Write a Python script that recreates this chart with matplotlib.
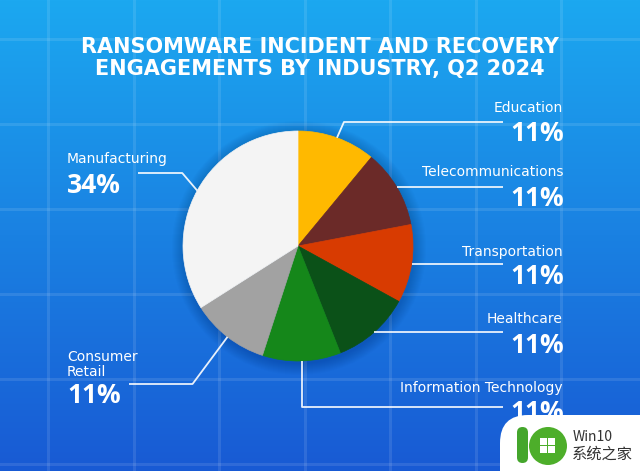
import numpy as np
import matplotlib
matplotlib.use('Agg')
import matplotlib.pyplot as plt
from matplotlib.patches import Circle, FancyBboxPatch, Rectangle

W, H = 640, 471

industries = ['Education', 'Telecommunications', 'Transportation', 'Healthcare',
              'Information Technology', 'Consumer\nRetail', 'Manufacturing']
shares = [11, 11, 11, 11, 11, 11, 34]
slice_colors = ['#ffb900', '#6b2a28', '#d83b01', '#0b5118', '#15871a', '#a2a2a2', '#f4f4f4']
title_lines = ['RANSOMWARE INCIDENT AND RECOVERY', 'ENGAGEMENTS BY INDUSTRY, Q2 2024']

# label layout in pixels from the top: name baseline (last line), pct baseline, line y, elbow dx, line end x
layout = {
    'Education': ('right', 112, 141, 122, 7, 503),
    'Telecommunications': ('right', 176, 206, None, 0, 503),
    'Transportation': ('right', 256, 284, None, 0, 503),
    'Healthcare': ('right', 323, 353, None, 0, 503),
    'Information Technology': ('right', 392, 420, 407, 0, 503),
    'Consumer\nRetail': ('left', 376, 403, 384, -35, 129),
    'Manufacturing': ('left', 163, 193, 173, -15, 138),
}


def Y(y):
    return H - y


fig = plt.figure(figsize=(6.4, 4.71), dpi=100)
ax = fig.add_axes([0, 0, 1, 1])

# background gradient
top = np.array([28, 168, 240]) / 255
bot = np.array([24, 90, 212]) / 255
t = np.linspace(0, 1, 256)[:, None, None]
grad = top * (1 - t) + bot * t
grad = np.repeat(grad, 2, axis=1)
ax.imshow(grad, extent=[0, W, 0, H], aspect='auto', origin='upper', zorder=0)

# faint grid
for gx in np.arange(48, W, 85.5):
    ax.plot([gx, gx], [0, H], color='white', alpha=0.1, lw=2.2, zorder=1)
for gy in np.arange(39, H, 85):
    ax.plot([0, W], [Y(gy), Y(gy)], color='white', alpha=0.1, lw=2.2, zorder=1)

# pie
cx, cy, r = 298, Y(246), 115
for k in range(1, 13):
    ax.add_patch(Circle((cx + 1, cy - 2), r + k, color='#07215e', alpha=0.018, lw=0, zorder=2))
wedges, _ = ax.pie(shares, colors=slice_colors, startangle=90, counterclock=False,
                   center=(cx, cy), radius=r, wedgeprops=dict(linewidth=0.5))
for w in wedges:
    w.set_edgecolor(w.get_facecolor())
    w.set_zorder(3)

# titles
ax.text(320, Y(53), title_lines[0], ha='center', va='baseline', color='white',
        fontsize=15, fontweight='bold', family='DejaVu Sans', zorder=5)
ax.text(320, Y(75), title_lines[1], ha='center', va='baseline', color='white',
        fontsize=15, fontweight='bold', family='DejaVu Sans', zorder=5)

# labels and leader lines
for w, name, val in zip(wedges, industries, shares):
    side, name_y, pct_y, line_y, dx, end_x = layout[name]
    mid = np.deg2rad((w.theta1 + w.theta2) / 2)
    x0, y0 = cx + r * np.cos(mid), cy + r * np.sin(mid)
    if line_y is None:
        xs, ys = [x0, end_x], [y0, y0]
    else:
        xs, ys = [x0, x0 + dx, end_x], [y0, Y(line_y), Y(line_y)]
    ax.plot(xs, ys, color='white', lw=1.3, alpha=0.9, zorder=4, solid_capstyle='butt')
    tx = 563 if side == 'right' else 67
    ha = 'right' if side == 'right' else 'left'
    ax.text(tx, Y(name_y), name, ha=ha, va='baseline', color='white', fontsize=10,
            family='DejaVu Sans', linespacing=1.1, zorder=5)
    ax.text(tx + (1 if side == 'right' else 0), Y(pct_y), f'{val}%', ha=ha, va='baseline',
            color='white', fontsize=19, fontweight='bold', family='Open Sans', zorder=5)

# watermark
ax.add_patch(FancyBboxPatch((500, -40), 200, Y(415) + 40,
                            boxstyle='round,pad=0,rounding_size=28',
                            fc='white', ec='none', zorder=10))
ax.add_patch(FancyBboxPatch((517, Y(463)), 11, 36, boxstyle='round,pad=0,rounding_size=5.5',
                            fc='#44a62c', ec='none', zorder=11))
ax.add_patch(Circle((548, Y(446)), 19, fc='#4dae2a', ec='none', zorder=11))
for sx, sy in [(540, 438), (548, 438), (540, 446), (548, 446)]:
    ax.add_patch(Rectangle((sx, Y(sy + 7)), 7, 7, fc='white', ec='none', zorder=12))
ax.text(573, Y(441), 'Win10', ha='left', va='baseline', color='#333333', fontsize=10,
        family=['Noto Sans CJK SC', 'DejaVu Sans'], zorder=12)
ax.text(572, Y(459), '系统之家', ha='left', va='baseline', color='#333333', fontsize=11,
        family=['Noto Sans CJK SC', 'DejaVu Sans'], zorder=12)

ax.set_xlim(0, W)
ax.set_ylim(0, H)
ax.set_aspect('auto')
ax.axis('off')
fig.savefig('out.png', dpi=100)
